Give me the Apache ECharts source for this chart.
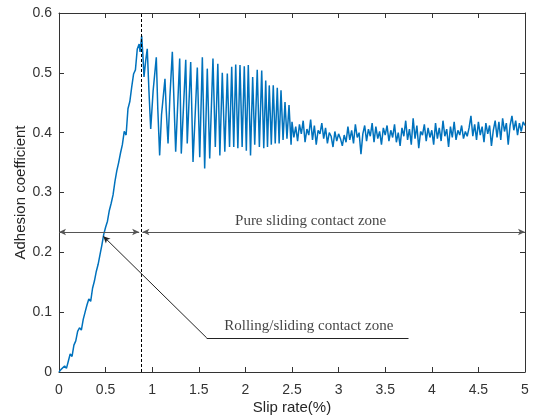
<!DOCTYPE html>
<html>
<head>
<meta charset="utf-8">
<script src="https://cdn.jsdelivr.net/npm/echarts@6/dist/echarts.min.js"></script>
<style>html,body{margin:0;padding:0;background:#fff;}#c{width:538px;height:417px;}</style>
</head>
<body>
<div id="c"></div>
<script>
// Slip rate (%) values
const slipRate = [
0.00,0.02,0.04,0.06,0.08,0.10,0.12,0.14,0.16,0.18,0.20,0.22,0.24,0.26,0.28,0.30,0.32,0.34,0.36,0.38,
0.40,0.42,0.44,0.46,0.48,0.50,0.52,0.54,0.56,0.58,0.60,0.62,0.64,0.66,0.68,0.70,0.72,0.74,0.76,0.78,
0.80,0.82,0.84,0.86,0.87,0.887,0.90,0.912,0.93,0.947,0.965,0.984,1.01,1.044,1.06,1.080,1.10,1.137,1.15,1.170,
1.19,1.216,1.252,1.295,1.312,1.360,1.376,1.413,1.438,1.484,1.510,1.538,1.563,1.591,1.617,1.652,1.677,1.704,1.726,1.752,
1.779,1.806,1.830,1.853,1.875,1.896,1.919,1.942,1.965,1.988,2.010,2.031,2.055,2.078,2.100,2.127,2.150,2.175,2.197,2.218,
2.237,2.256,2.278,2.299,2.320,2.342,2.362,2.382,2.404,2.425,2.446,2.468,2.49,
2.50,2.52,2.54,2.56,2.58,2.60,2.62,2.64,2.66,2.68,2.70,2.72,2.74,2.76,2.78,2.80,2.82,2.84,2.86,2.88,
2.90,2.92,2.94,2.96,2.98,3.00,3.02,3.04,3.06,3.08,3.10,3.12,3.14,3.16,3.18,3.20,3.22,3.24,3.26,3.28,
3.30,3.32,3.34,3.36,3.38,3.40,3.42,3.44,3.46,3.48,3.50,3.52,3.54,3.56,3.58,3.60,3.62,3.64,3.66,3.68,
3.70,3.72,3.74,3.76,3.78,3.80,3.82,3.84,3.86,3.88,3.90,3.92,3.94,3.96,3.98,4.00,4.02,4.04,4.06,4.08,
4.10,4.12,4.14,4.16,4.18,4.20,4.22,4.24,4.26,4.28,4.30,4.32,4.34,4.36,4.38,4.40,4.42,4.44,4.46,4.48,
4.50,4.52,4.54,4.56,4.58,4.60,4.62,4.64,4.66,4.68,4.70,4.72,4.74,4.76,4.78,4.80,4.82,4.84,4.86,4.88,
4.90,4.92,4.94,4.96,4.98,5.00
];
// Adhesion coefficient values
const adhesion = [
0.000,0.004,0.002,0.010,0.006,0.018,0.030,0.026,0.045,0.052,0.068,0.074,0.070,0.088,0.100,0.112,0.122,0.118,0.140,0.152,
0.168,0.180,0.196,0.212,0.230,0.242,0.252,0.270,0.282,0.296,0.318,0.336,0.350,0.366,0.380,0.402,0.396,0.440,0.452,0.476,
0.498,0.505,0.540,0.548,0.535,0.562,0.530,0.493,0.520,0.540,0.470,0.406,0.470,0.526,0.440,0.362,0.430,0.490,0.440,0.382,
0.460,0.535,0.368,0.524,0.365,0.522,0.382,0.518,0.351,0.509,0.359,0.526,0.340,0.507,0.357,0.524,0.376,0.515,0.362,0.500,
0.368,0.499,0.376,0.510,0.376,0.514,0.374,0.513,0.376,0.511,0.370,0.513,0.362,0.493,0.380,0.505,0.376,0.504,0.374,0.487,
0.376,0.479,0.380,0.479,0.382,0.475,0.382,0.471,0.388,0.451,0.390,0.446,0.380,
0.418,0.392,0.410,0.386,0.414,0.398,0.420,0.384,0.406,0.396,0.422,0.388,0.412,0.380,0.404,0.398,0.416,0.390,0.408,0.382,
0.400,0.394,0.376,0.402,0.386,0.398,0.390,0.378,0.396,0.384,0.410,0.388,0.404,0.382,0.414,0.392,0.400,0.364,0.398,0.412,
0.386,0.406,0.394,0.416,0.384,0.410,0.390,0.402,0.380,0.408,0.396,0.412,0.386,0.404,0.392,0.414,0.384,0.400,0.378,0.408,
0.394,0.420,0.388,0.406,0.380,0.424,0.390,0.412,0.374,0.402,0.396,0.414,0.386,0.408,0.392,0.404,0.380,0.416,0.390,0.408,
0.386,0.420,0.394,0.406,0.376,0.410,0.392,0.418,0.388,0.404,0.396,0.412,0.390,0.402,0.394,0.408,0.428,0.394,0.414,0.388,
0.418,0.396,0.410,0.384,0.416,0.398,0.412,0.378,0.404,0.420,0.392,0.418,0.388,0.424,0.402,0.416,0.380,0.412,0.428,0.404,
0.420,0.396,0.416,0.402,0.418,0.412
];
// Tick labels
const xTicks = ['0','0.5','1','1.5','2','2.5','3','3.5','4','4.5','5'];
const yTicks = ['0','0.1','0.2','0.3','0.4','0.5','0.6'];
// Annotation values (data coordinates)
const boundaryX = 0.887;
const arrowY = 0.234;
const leftZone = [0, 0.86];
const rightZone = [0.895, 5];
const pointerTip = [0.475, 0.227];
const pointerElbow = [1.585, 0.057];
const pointerEnd = [3.75, 0.057];
const pureLabel = {x: 2.70, y: 0.2526, text: 'Pure sliding contact zone'};
const rollLabel = {x: 2.68, y: 0.0768, text: 'Rolling/sliding contact zone'};

const lineData = slipRate.map((x, i) => [x, adhesion[i]]);
const axisColor = '#333333';
const sans = 'Liberation Sans, Arial, sans-serif';
const serif = 'Liberation Serif, Times New Roman, serif';

function baseX(extra) {
  return Object.assign({
    type: 'value', min: 0, max: 5, interval: 0.5,
    axisLine: {show: true, onZero: false, lineStyle: {color: axisColor, width: 1}},
    axisTick: {show: true, inside: true, length: 5, lineStyle: {color: axisColor}},
    splitLine: {show: false}
  }, extra);
}
function baseY(extra) {
  return Object.assign({
    type: 'value', min: 0, max: 0.6, interval: 0.1,
    axisLine: {show: true, onZero: false, lineStyle: {color: axisColor, width: 1}},
    axisTick: {show: true, inside: true, length: 5, lineStyle: {color: axisColor}},
    splitLine: {show: false}
  }, extra);
}

const chart = echarts.init(document.getElementById('c'), null, {renderer: 'canvas'});
chart.setOption({
  animation: false,
  backgroundColor: '#ffffff',
  grid: {left: 59, right: 13, top: 13, bottom: 45, containLabel: false, outerBoundsMode: 'none'},
  xAxis: [
    baseX({position: 'bottom', name: 'Slip rate(%)', nameLocation: 'middle', nameGap: 28,
      nameMoveOverlap: false,
      nameTextStyle: {fontFamily: sans, fontSize: 15, color: '#262626'},
      axisLabel: {fontFamily: sans, fontSize: 14, color: '#333', margin: 11,
        formatter: (v) => xTicks[Math.round(v / 0.5)] ?? ''}}),
    baseX({position: 'top', axisLabel: {show: false}})
  ],
  yAxis: [
    baseY({position: 'left', name: 'Adhesion coefficient', nameLocation: 'middle', nameGap: 31,
      nameMoveOverlap: false,
      nameTextStyle: {fontFamily: sans, fontSize: 15, color: '#262626'},
      axisLabel: {fontFamily: sans, fontSize: 14, color: '#333', margin: 7,
        formatter: (v) => yTicks[Math.round(v / 0.1)] ?? ''}}),
    baseY({position: 'right', axisLabel: {show: false}})
  ],
  series: [
    {
      type: 'line', data: lineData, showSymbol: false, symbol: 'none', sampling: null,
      lineStyle: {color: '#0072BD', width: 1.5}, itemStyle: {color: '#0072BD'},
      z: 2,
      markLine: {
        silent: true, symbol: 'none', animation: false,
        label: {show: false},
        lineStyle: {color: '#222', width: 1, type: 'solid'},
        data: [
          [{coord: [boundaryX, 0], lineStyle: {type: [3, 2], color: '#000', width: 1}},
           {coord: [boundaryX, 0.6]}],
          [{coord: [leftZone[0], arrowY], symbol: 'arrow', symbolSize: [5, 7], lineStyle: {color: '#555'}},
           {coord: [leftZone[1], arrowY], symbol: 'arrow', symbolSize: [5, 7]}],
          [{coord: [rightZone[0], arrowY], symbol: 'arrow', symbolSize: [5, 7], lineStyle: {color: '#555'}},
           {coord: [rightZone[1], arrowY], symbol: 'arrow', symbolSize: [5, 7]}],
          [{coord: pointerElbow, symbol: 'none', lineStyle: {color: '#222'}},
           {coord: pointerTip, symbol: 'arrow', symbolSize: [5, 7]}],
          [{coord: pointerElbow, symbol: 'none', lineStyle: {color: '#222'}},
           {coord: pointerEnd, symbol: 'none'}]
        ]
      }
    },
    {
      type: 'scatter', symbolSize: 0, silent: true, z: 5,
      data: [[pureLabel.x, pureLabel.y, pureLabel.text], [rollLabel.x, rollLabel.y, rollLabel.text]],
      label: {show: true, position: 'inside', formatter: (p) => p.data[2],
        fontFamily: serif, fontSize: 15, color: '#111'}
    }
  ]
});
</script>
</body>
</html>
